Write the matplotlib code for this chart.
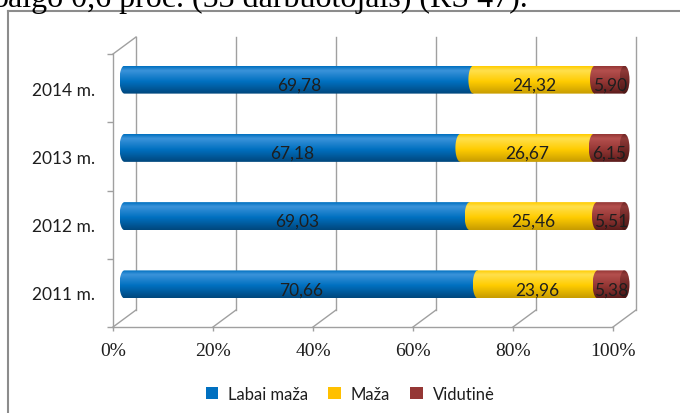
import numpy as np
import matplotlib.pyplot as plt
from matplotlib.colors import LinearSegmentedColormap
from matplotlib.patches import PathPatch, Ellipse, Patch
from matplotlib.path import Path
from matplotlib.lines import Line2D

# ---- data ----
years = ['2011 m.', '2012 m.', '2013 m.', '2014 m.']
labai_maza = [70.66, 69.03, 67.18, 69.78]
maza = [23.96, 25.46, 26.67, 24.32]
vidutine = [5.38, 5.51, 6.15, 5.90]
series_names = ['Labai maža', 'Maža', 'Vidutinė']
x_ticks = [0, 20, 40, 60, 80, 100]
x_tick_labels = ['0%', '20%', '40%', '60%', '80%', '100%']
header_text = 'baigo 0,6 proc. (53 darbuotojais) (RS 47).'

# ---- style ----
fig_w, fig_h, dpi = 6.8, 4.14, 100
grid_col = '#a0a0a0'
text_col = '#1e1e1e'
sans = 'Lato'
serif = 'Liberation Serif'
# (dark, base, light) for the cylinder shading
shades = [('#00477d', '#0070c0', '#3b93da'),
          ('#c79c00', '#ffcc00', '#ffe04d'),
          ('#5c1d1c', '#953735', '#b5504e')]
cap_shade = ('#4a1716', '#6e2625', '#8f3a38')
legend_cols = ['#0070c0', '#ffc000', '#953735']

bar_h = 0.41
depth_dx = 4.6     # back wall offset in x data units (23 px)
depth_dy = 0.249   # back wall offset in y data units (17 px)
cap_a = 1.0        # half width of cylinder end ellipse (x units)


def shade_cmap(c):
    return LinearSegmentedColormap.from_list(
        'cyl', [(0, c[0]), (0.45, c[1]), (0.85, c[2]), (1.0, c[1])])


def draw_gradient(ax, clip_patch, extent, cmap):
    grad = np.linspace(0, 1, 64).reshape(-1, 1)
    im = ax.imshow(grad, extent=extent, origin='lower', aspect='auto',
                   cmap=cmap, interpolation='bilinear', zorder=3)
    im.set_clip_box(fig.bbox)
    im.set_clip_path(clip_patch)


def segment_patch(x0, x1, yc):
    # rectangle with a rounded (half ellipse) left end
    b = bar_h / 2
    theta = np.linspace(np.pi / 2, 3 * np.pi / 2, 40)
    xs = list(x0 + cap_a * np.cos(theta)) + [x1, x1, x0]
    ys = list(yc + b * np.sin(theta)) + [yc - b, yc + b, yc + b]
    verts = list(zip(xs, ys))
    codes = [Path.MOVETO] + [Path.LINETO] * (len(verts) - 2) + [Path.CLOSEPOLY]
    return PathPatch(Path(verts, codes), facecolor='none', edgecolor='none')


fig = plt.figure(figsize=(fig_w, fig_h), dpi=dpi)
ax = fig.add_axes([113 / 680, 86 / 414, 500 / 680, 273 / 414])
ax.set_xlim(0, 100)
ax.set_ylim(-0.5, 3.5)
ax.patch.set_visible(False)

# back wall gridlines and floor diagonals
for x in x_ticks:
    ax.plot([x + depth_dx] * 2, [-0.5 + depth_dy, 3.5 + depth_dy],
            color=grid_col, lw=1, clip_on=False, zorder=1)
    ax.plot([x, x + depth_dx], [-0.5, -0.5 + depth_dy],
            color=grid_col, lw=1, clip_on=False, zorder=1)
ax.plot([0, depth_dx], [3.5, 3.5 + depth_dy], color=grid_col, lw=1,
        clip_on=False, zorder=1)

# cylinders
series = [labai_maza, maza, vidutine]
for i, year in enumerate(years):
    yc = i + depth_dy / 2
    left = 0.0
    for s, vals in enumerate(series):
        v = vals[i]
        x0 = left + depth_dx / 2
        x1 = left + v + depth_dx / 2
        p = segment_patch(x0, x1, yc)
        ax.add_patch(p)
        p.set_clip_on(False)
        draw_gradient(ax, p, [x0 - cap_a, x1, yc - bar_h / 2, yc + bar_h / 2],
                      shade_cmap(shades[s]))
        ax.text((x0 + x1) / 2, yc - 0.07, f'{v:.2f}'.replace('.', ','),
                ha='center', va='center', fontsize=12.5, family=sans,
                color=text_col, zorder=6, clip_on=False)
        left += v
    # end cap
    xe = left + depth_dx / 2
    cap = Ellipse((xe, yc), 2 * cap_a, bar_h, facecolor='none', edgecolor='none')
    ax.add_patch(cap)
    cap.set_clip_on(False)
    draw_gradient(ax, cap, [xe - cap_a, xe + cap_a, yc - bar_h / 2, yc + bar_h / 2],
                  shade_cmap(cap_shade))

ax.set_xlim(0, 100)
ax.set_ylim(-0.5, 3.5)

# front axes
for side in ['top', 'right']:
    ax.spines[side].set_visible(False)
for side in ['left', 'bottom']:
    ax.spines[side].set_color(grid_col)
    ax.spines[side].set_linewidth(1)

ax.set_xticks(x_ticks)
ax.set_xticklabels(x_tick_labels, fontfamily=serif, fontsize=14, color=text_col)
ax.tick_params(axis='x', length=3, width=1, color=grid_col, pad=8)

ax.set_yticks([-0.5, 0.5, 1.5, 2.5, 3.5])
ax.set_yticklabels([])
ax.set_yticks(range(len(years)), minor=True)
ax.set_yticklabels(years, minor=True, fontfamily=sans, fontsize=12.5, color=text_col)
ax.tick_params(axis='y', which='major', length=4, width=1, color=grid_col)
ax.tick_params(axis='y', which='minor', length=0, pad=13)

# legend
handles = [Patch(facecolor=c, edgecolor='none') for c in legend_cols]
fig.legend(handles, series_names, loc='center', bbox_to_anchor=(350 / 680, 1 - 395 / 414),
           ncol=3, frameon=False, prop={'family': sans, 'size': 12},
           handlelength=0.75, handleheight=0.75, handletextpad=0.6,
           columnspacing=1.2, labelcolor=text_col)

# chart frame (only left and top edges are inside the picture)
fig.add_artist(Line2D([8 / 680, 8 / 680], [0, 1 - 12 / 414], color='#8c8c8c', lw=1.5,
                      transform=fig.transFigure))
fig.add_artist(Line2D([8 / 680, 1], [1 - 12 / 414, 1 - 12 / 414], color='#8c8c8c', lw=1.5,
                      transform=fig.transFigure))

# clipped line of document text above the chart
fig.text(-8 / 680, 1 - 7 / 414, header_text, fontfamily=serif, fontsize=23,
         va='baseline', ha='left', color='black')

fig.savefig('out.png', dpi=dpi)
